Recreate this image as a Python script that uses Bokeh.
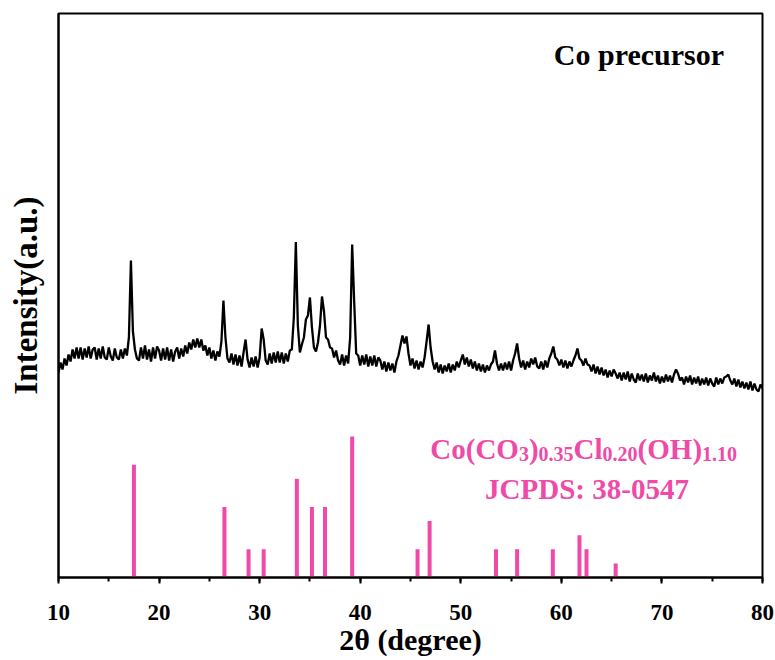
import numpy as np
from bokeh.plotting import figure
from bokeh.models import Range1d, SingleIntervalTicker, FixedTicker, Label
from bokeh.embed import file_html
from bokeh.resources import INLINE

# ---- measured XRD pattern (2theta scan grid, 0.2 deg step) ----
two_theta = np.round(np.arange(10.0, 80.0001, 0.2), 1)
xrd_intensity = [
    1025, 1075, 1040, 1095, 1060, 1115, 1080, 1140, 1095, 1150,   # 10
    1095, 1150, 1090, 1145, 1100, 1155, 1095, 1140, 1150, 1090,   # 12
    1145, 1095, 1155, 1100, 1090, 1150, 1105, 1085, 1145, 1100,   # 14
    1090, 1140, 1095, 1145, 1110, 1200, 1585, 1230, 1140, 1095,   # 16
    1085, 1150, 1095, 1160, 1090, 1140, 1080, 1150, 1095, 1155,   # 18
    1135, 1085, 1145, 1090, 1150, 1085, 1140, 1080, 1130, 1150,   # 20
    1095, 1145, 1105, 1160, 1120, 1175, 1140, 1190, 1150, 1195,   # 22
    1150, 1190, 1135, 1160, 1110, 1150, 1095, 1135, 1085, 1130,   # 24
    1105, 1180, 1385, 1200, 1095, 1075, 1120, 1065, 1115, 1060,   # 26
    1110, 1055, 1125, 1190, 1090, 1050, 1100, 1055, 1105, 1050,   # 28
    1100, 1245, 1190, 1085, 1065, 1120, 1070, 1125, 1075, 1130,   # 30
    1075, 1125, 1070, 1120, 1080, 1135, 1140, 1300, 1677, 1260,   # 32
    1125, 1165, 1200, 1290, 1310, 1400, 1250, 1150, 1130, 1175,   # 34
    1260, 1405, 1330, 1200, 1190, 1150, 1145, 1100, 1135, 1085,   # 36
    1065, 1115, 1060, 1110, 1070, 1200, 1665, 1380, 1120, 1110,   # 38
    1060, 1110, 1065, 1115, 1055, 1105, 1060, 1110, 1055, 1100,   # 40
    1085, 1040, 1080, 1030, 1075, 1035, 1070, 1025, 1080, 1110,   # 42
    1160, 1210, 1170, 1205, 1120, 1060, 1095, 1045, 1085, 1040,   # 44
    1080, 1050, 1100, 1180, 1265, 1150, 1080, 1040, 1075, 1025,   # 46
    1065, 1020, 1060, 1030, 1070, 1025, 1065, 1035, 1080, 1050,   # 48
    1085, 1115, 1065, 1100, 1055, 1090, 1045, 1080, 1035, 1070,   # 50
    1030, 1065, 1025, 1060, 1035, 1065, 1080, 1135, 1070, 1035,   # 52
    1070, 1035, 1075, 1040, 1080, 1035, 1085, 1120, 1170, 1095,   # 54
    1050, 1085, 1040, 1080, 1050, 1095, 1065, 1100, 1055, 1045,   # 56
    1080, 1040, 1085, 1050, 1095, 1120, 1155, 1100, 1090, 1060,   # 58
    1090, 1050, 1085, 1045, 1080, 1055, 1085, 1110, 1145, 1095,   # 60
    1085, 1060, 1095, 1065, 1060, 1030, 1065, 1020, 1055, 1015,   # 62
    1050, 1010, 1040, 1000, 1035, 1005, 1040, 1020, 995, 1025,    # 64
    985, 1025, 990, 1030, 980, 1020, 990, 975, 1020, 985,         # 66
    1015, 980, 1020, 975, 1010, 985, 1025, 980, 1010, 970,        # 68
    1005, 975, 1015, 980, 1010, 975, 1015, 1040, 1020, 985,       # 70
    1000, 965, 1005, 975, 1010, 965, 1000, 970, 1005, 960,        # 72
    995, 965, 1000, 960, 995, 970, 955, 1000, 965, 995,           # 74
    970, 1000, 1005, 1015, 985, 965, 995, 955, 990, 950,          # 76
    980, 945, 975, 940, 980, 935, 970, 940, 930, 965,             # 78
    945,                                                          # 80
]

# ---- reference pattern JCPDS 38-0547 ----
ref_2theta = [17.5, 26.5, 28.9, 30.4, 33.7, 35.2, 36.5, 39.2,
              45.7, 46.9, 53.5, 55.6, 59.15, 61.8, 62.5, 65.4]
ref_rel_int = [80, 50, 20, 20, 70, 50, 50, 100,
               20, 40, 20, 20, 20, 30, 20, 10]

x_label = "2θ (degree)"
y_label = "Intensity(a.u.)"
sample_label = "Co precursor"
card_label = "JCPDS: 38-0547"
formula_parts = [("Co(CO", False), ("3", True), (")", False), ("0.35", True),
                 ("Cl", False), ("0.20", True), ("(OH)", False), ("1.10", True)]

PINK = "#EF4AA8"
FONT = "Liberation Serif"
STICK_SCALE = 7.05

p = figure(width=775, height=660, output_backend="svg", toolbar_location=None,
           title=None,
           x_range=Range1d(10, 80), y_range=Range1d(0, 2820),
           min_border_left=58, min_border_right=13, min_border_top=13,
           min_border_bottom=83)
p.grid.visible = False
p.outline_line_color = "black"
p.outline_line_width = 2
p.background_fill_color = "white"
p.border_fill_color = "white"

p.line(two_theta, xrd_intensity, color="black", line_width=2.3)
p.segment(x0=ref_2theta, y0=[0] * len(ref_2theta), x1=ref_2theta,
          y1=[v * STICK_SCALE for v in ref_rel_int],
          line_color=PINK, line_width=4, line_cap="butt")

xa = p.xaxis[0]
xa.ticker = SingleIntervalTicker(interval=10, num_minor_ticks=2)
xa.axis_line_width = 2
xa.major_tick_in = 0
xa.major_tick_out = 6
xa.minor_tick_in = 0
xa.minor_tick_out = 4
xa.major_tick_line_width = 2
xa.minor_tick_line_width = 2
xa.major_label_text_font = FONT
xa.major_label_text_font_style = "bold"
xa.major_label_text_font_size = "23px"
xa.major_label_text_color = "black"
xa.major_label_standoff = 21
xa.axis_label = x_label
xa.axis_label_text_font = FONT
xa.axis_label_text_font_style = "bold"
xa.axis_label_text_font_size = "30px"
xa.axis_label_text_color = "black"
xa.axis_label_standoff = 0

ya = p.yaxis[0]
ya.ticker = FixedTicker(ticks=[])
ya.axis_line_width = 2
ya.major_tick_out = 0
ya.minor_tick_out = 0
ya.axis_label = y_label
ya.axis_label_text_font = FONT
ya.axis_label_text_font_style = "bold"
ya.axis_label_text_font_size = "33px"
ya.axis_label_text_color = "black"
ya.axis_label_standoff = 15

p.add_layout(Label(x=59.25, y=2615, text=sample_label, text_font=FONT,
                   text_font_style="bold", text_font_size="30px",
                   text_color="black", text_baseline="alphabetic"))

offsets = [0, 88.6, 98.6, 108.3, 143.3, 172.3, 207.3, 271.7]
for (txt, sub), off in zip(formula_parts, offsets):
    p.add_layout(Label(x=46.97, y=645, x_offset=off, y_offset=-5 if sub else 0,
                       text=txt, text_font=FONT, text_font_style="bold",
                       text_font_size="20px" if sub else "29px",
                       text_color=PINK, text_baseline="alphabetic"))

p.add_layout(Label(x=62.55, y=443, text=card_label, text_font=FONT,
                   text_font_style="bold", text_font_size="29px",
                   text_color=PINK, text_align="center",
                   text_baseline="alphabetic"))

open("out.html", "w").write(file_html(p, INLINE))
